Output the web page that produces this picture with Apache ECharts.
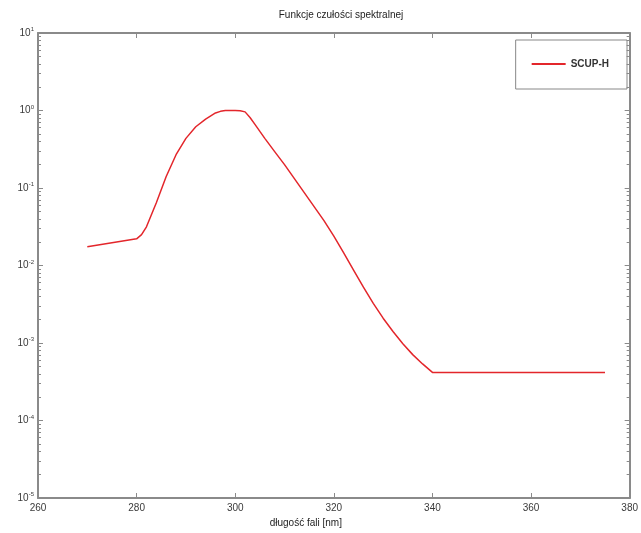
<!DOCTYPE html>
<html>
<head>
<meta charset="utf-8">
<script src="https://cdn.jsdelivr.net/npm/echarts@6/dist/echarts.min.js"></script>
<style>html,body{margin:0;padding:0;background:#fff}#c{width:641px;height:533px}</style>
</head>
<body>
<div id="c"></div>
<script>
// wavelength [nm]
var wavelengths = [270, 280, 281, 282, 284, 286, 288, 290, 292, 294, 296, 297, 298, 300, 301, 302, 303, 304, 305, 306, 308, 310, 312, 314, 316, 318, 320, 322, 324, 326, 328, 330, 332, 334, 336, 338, 340, 375];
// SCUP-H relative spectral sensitivity
var scupH = [0.0175, 0.0221, 0.0250, 0.0316, 0.0646, 0.141, 0.269, 0.437, 0.617, 0.776, 0.93, 0.975, 1.0, 1.0, 0.995, 0.96, 0.813, 0.661, 0.537, 0.437, 0.295, 0.200, 0.132, 0.0871, 0.0575, 0.0380, 0.0240, 0.0145, 0.00871, 0.00525, 0.00324, 0.00209, 0.00141, 0.000977, 0.000708, 0.000537, 0.000417, 0.000417];
var xTicks = [260, 280, 300, 320, 340, 360, 380];
var yExponents = [1, 0, -1, -2, -3, -4, -5];
var minorTickValues = [];
for (var e = -5; e < 1; e++) { for (var m = 2; m <= 9; m++) { minorTickValues.push(+(m * Math.pow(10, e)).toPrecision(3)); } }

var data = wavelengths.map(function (w, i) { return [w, scupH[i]]; });
var axisCol = '#8a8a8a';
var textCol = '#3a3a3a';
var font = 'Liberation Sans, Arial, sans-serif';

function yAxisBase(pos, showLabel, minor) {
  return {
    type: 'log', logBase: 10, min: 1e-5, max: 10, position: pos,
    axisLine: { show: !minor, lineStyle: { color: axisCol, width: 2 } },
    axisTick: minor ? { show: true, inside: true, length: 3, customValues: minorTickValues, lineStyle: { color: axisCol } }
                    : { show: true, inside: true, length: 5, lineStyle: { color: axisCol } },
    axisLabel: showLabel ? {
      margin: 4, color: textCol, fontFamily: font,
      formatter: function (v) { var ex = Math.round(Math.log10(v)); return '{b|10}{s|' + ex + '}'; },
      rich: { b: { fontSize: 10, color: textCol, fontFamily: font }, s: { fontSize: 6, color: textCol, fontFamily: font, padding: [0, 0, 7, 0] } }
    } : { show: false },
    splitLine: { show: false }
  };
}

var chart = echarts.init(document.getElementById('c'));
chart.setOption({
  animation: false,
  backgroundColor: '#fff',
  title: { text: 'Funkcje czułości spektralnej', left: 336, top: 5, textAlign: 'center',
    textStyle: { fontSize: 10, fontWeight: 'normal', color: '#222', fontFamily: font } },
  legend: {
    data: ['SCUP-H'], right: 14, top: 40, orient: 'vertical',
    icon: 'rect', itemWidth: 34, itemHeight: 2, itemGap: 4,
    padding: [19, 18, 20, 16], borderColor: '#888', borderWidth: 1,
    textStyle: { fontSize: 10, color: '#333', fontFamily: font, fontWeight: 'bold' }
  },
  grid: { left: 38, right: 7, top: 33, bottom: 30, containLabel: false },
  xAxis: [{
    type: 'value', min: 260, max: 380, interval: 20, position: 'bottom',
    name: 'długość fali [nm]', nameLocation: 'middle', nameGap: 20,
    nameTextStyle: { fontSize: 10, color: '#222', fontFamily: font, padding: [0, 56, 0, 0] },
    axisLine: { lineStyle: { color: axisCol, width: 2 } },
    axisTick: { inside: true, length: 5, lineStyle: { color: axisCol } },
    axisLabel: { margin: 5, fontSize: 10, color: textCol, fontFamily: font },
    splitLine: { show: false }
  }, {
    type: 'value', min: 260, max: 380, interval: 20, position: 'top',
    axisLine: { lineStyle: { color: axisCol, width: 2 } },
    axisTick: { inside: true, length: 5, lineStyle: { color: axisCol } },
    axisLabel: { show: false }, splitLine: { show: false }
  }],
  yAxis: [yAxisBase('left', true, false), yAxisBase('right', false, false), yAxisBase('left', false, true), yAxisBase('right', false, true)],
  series: [{
    name: 'SCUP-H', type: 'line', data: data, xAxisIndex: 0, yAxisIndex: 0,
    symbol: 'none', smooth: false,
    lineStyle: { color: '#e3262b', width: 1.5 }, itemStyle: { color: '#e3262b' }
  }]
});
</script>
</body>
</html>
